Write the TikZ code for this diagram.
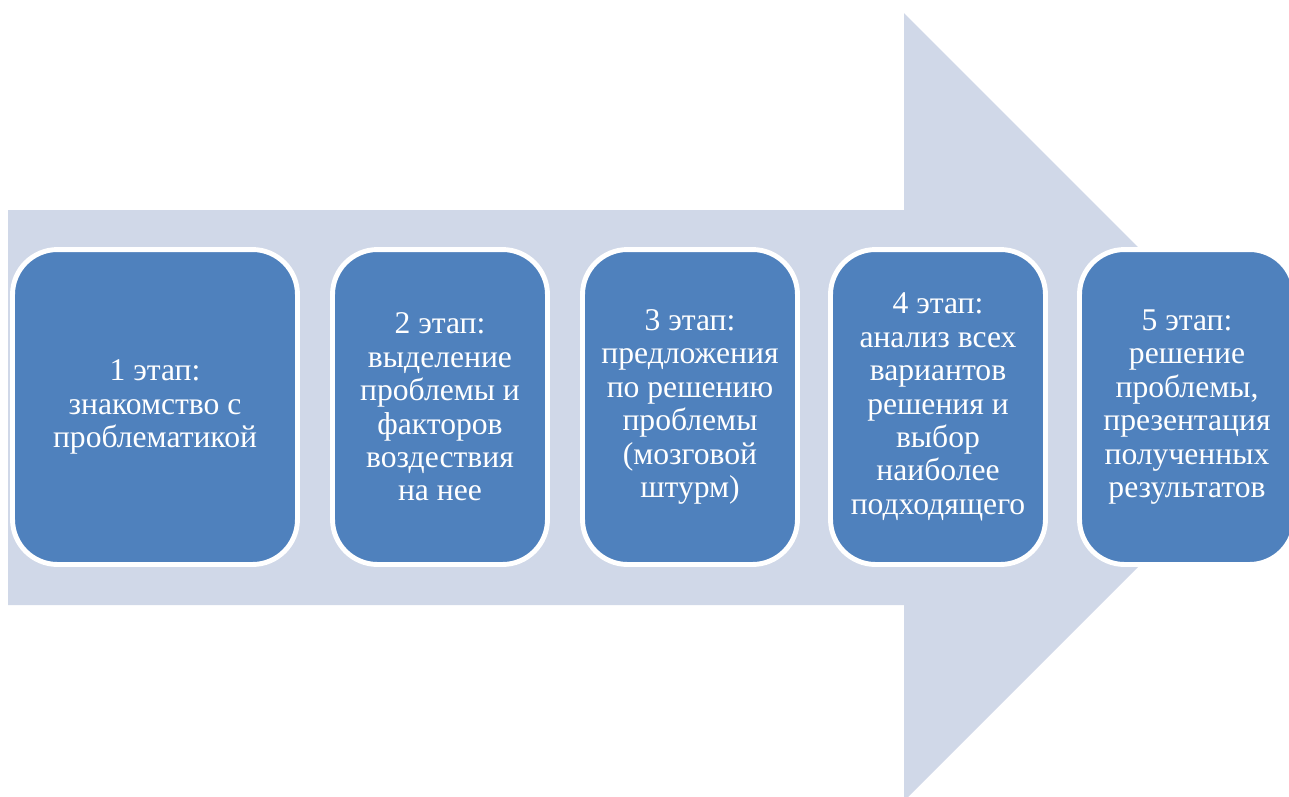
\documentclass[tikz,border=0pt]{standalone}
\usepackage{fontspec}
\setmainfont{Liberation Serif}
\usepackage{tikz}

\definecolor{arrowbg}{HTML}{D0D8E8}
\definecolor{stagefill}{HTML}{4F81BD}

\begin{document}
\begin{tikzpicture}[x=0.02cm, y=-0.02cm, stage/.style = {draw=white, line width=2.8pt, fill=stagefill, rounded corners=0.9cm, text=white, align=center, minimum height=6.3cm, inner sep=0pt, font=\fontsize{18}{19}\selectfont}]
\useasboundingbox (0,0) rectangle (1289,796);
\clip (0,0) rectangle (1289,796);
% big arrow in the back
\fill[arrowbg] (8,210) -- (904,210) -- (904,13) -- (1298,407) -- (904,801) -- (904,605) -- (8,605) -- cycle;

    \node[stage, minimum width=5.7cm] (1) at (155,407) {1 этап:\\знакомство с\\проблематикой};
    \node[stage, minimum width=4.3cm] (2) at (440,407) {2 этап:\\выделение\\проблемы и\\факторов\\воздествия\\на нее};
    \node[stage, minimum width=4.3cm] (3) at (690,407) {3 этап:\\предложения\\по решению\\проблемы\\(мозговой\\штурм)};
    \node[stage, minimum width=4.3cm] (4) at (938,407) {4 этап:\\анализ всех\\вариантов\\решения и\\выбор\\наиболее\\подходящего};
    \node[stage, minimum width=4.3cm] (5) at (1187,407) {5 этап:\\решение\\проблемы,\\презентация\\полученных\\результатов};

\end{tikzpicture}
\end{document}
